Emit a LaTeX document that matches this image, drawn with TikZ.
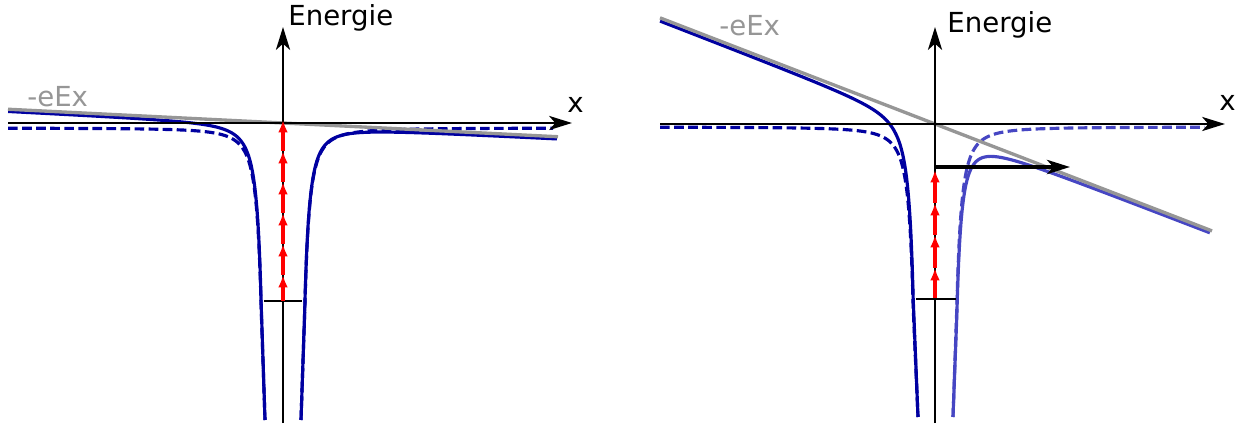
\documentclass[tikz,border=0pt]{standalone}
\usepackage{fontspec}
\setmainfont{DejaVu Sans}
\usetikzlibrary{arrows.meta}
\definecolor{potblue}{RGB}{0,0,160}
\definecolor{potlight}{RGB}{70,70,195}
\definecolor{fieldgray}{RGB}{150,150,150}
\tikzset{
  axisline/.style = {-{Stealth[length=13pt,width=8pt,inset=3.5pt]},line width=1.6pt,black},
  pot/.style      = {line width=1.8pt,color=potblue},
  potfree/.style  = {pot,dash pattern=on 5.5pt off 2.5pt},
  field/.style    = {line width=1.9pt,color=fieldgray},
  tunnel/.style   = {-{Latex[length=7pt,width=5.5pt]},line width=2.2pt,red},
  level/.style    = {line width=0.7pt,black},
  escape/.style   = {-{Stealth[length=13pt,width=8pt,inset=3.5pt]},line width=2.6pt,black},
  lab/.style      = {font=\fontsize{15.7}{18}\selectfont,inner sep=0pt,anchor=base west},
  declare function={wall(\u)=(125.3/\u)^2;},
}

\begin{document}
\begin{tikzpicture}[x=0.02cm,y=-0.02cm]
  \useasboundingbox (0,0) rectangle (1256,428);

  % left: weak field
  \coordinate (oL) at (283,123);
  \draw[potfree] plot[variable=\t,domain=5.570:2.234,samples=120,smooth]
        ({283-12.5-exp(\t)},{128+wall(exp(\t))}) -- (265,420);
  \draw[potfree] (301,420) -- plot[variable=\t,domain=2.234:5.552,samples=120,smooth]
        ({283+12.5+exp(\t)},{128+wall(exp(\t))});
  \draw[pot] plot[variable=\t,domain=5.570:2.234,samples=120,smooth]
        ({283-12.5-exp(\t)},{125-0.05*(12.5+exp(\t))+wall(exp(\t))}) -- (265,420);
  \draw[pot] (301,420) -- plot[variable=\t,domain=2.234:5.566,samples=120,smooth]
        ({283+12.5+exp(\t)},{125+0.05*(12.5+exp(\t))+wall(exp(\t))});
  \draw[field] (8,109.25) -- (558,136.75);
  \draw[level] (264,301) -- (302,301);
  \draw[axisline] (8,123) -- (572,123);
  \draw[axisline] (283,423) -- (283,27);
  \foreach \a/\b in {301/275,275/244,244/213,213/182,182/151,151/120}
    \draw[tunnel] (283,\a) -- (283,\b);
  \node[lab] (enL) at (288,26) {Energie};
  \node[lab] (xL) at (567,113) {x};
  \node[lab,fieldgray] (fieldL) at (27,107) {-eEx};

  % right: strong field
  \coordinate (oR) at (935,124);
  \draw[potfree] plot[variable=\t,domain=5.570:2.234,samples=120,smooth]
        ({935-12.5-exp(\t)},{127+wall(exp(\t))}) -- (918,417);
  \draw[potfree,potlight] (953,417) -- plot[variable=\t,domain=2.234:5.551,samples=120,smooth]
        ({935+12.5+exp(\t)},{127+wall(exp(\t))});
  \draw[pot] plot[variable=\t,domain=5.570:2.234,samples=120,smooth]
        ({935-12.5-exp(\t)},{127-0.386*(12.5+exp(\t))+wall(exp(\t))}) -- (918,417);
  \draw[pot,potlight] (953,417) -- plot[variable=\t,domain=2.234:5.570,samples=120,smooth]
        ({935+12.5+exp(\t)},{126.5+0.386*(12.5+exp(\t))+wall(exp(\t))});
  \draw[field] (660,17.85) -- (1212,230.9);
  \draw[level] (916,299) -- (956,299);
  \draw[axisline] (660,124) -- (1225,124);
  \draw[axisline] (935,423) -- (935,27);
  \foreach \a/\b in {298/268,268/235,235/203,203/170}
    \draw[tunnel] (935,\a) -- (935,\b);
  \draw[escape] (oR |- 0,167) -- (1070,167);
  \node[lab] (enR) at (947,33) {Energie};
  \node[lab] (xR) at (1219,111) {x};
  \node[lab,fieldgray] (fieldR) at (719,36) {-eEx};
\end{tikzpicture}
\end{document}
